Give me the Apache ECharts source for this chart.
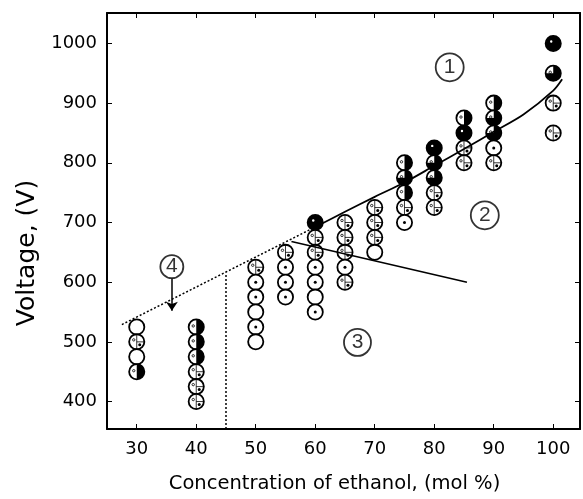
<!DOCTYPE html>
<html>
<head>
<meta charset="utf-8">
<script src="https://cdn.jsdelivr.net/npm/echarts@6/dist/echarts.min.js"></script>
<style>
  html, body { margin: 0; padding: 0; background: #fff; }
  #main { width: 583px; height: 499px; }
</style>
</head>
<body>
<div id="main"></div>
<script>
// tick labels
const xTicks = [30, 40, 50, 60, 70, 80, 90, 100];
const yTicks = [400, 500, 600, 700, 800, 900, 1000];

// observed points: concentration, voltage, pattern
// pattern: 0 open, 1 dot, 2 divided, 3 half black, 4 three-quarter black, 5 black
const pointX = [30,30,30,30, 40,40,40,40,40,40, 50,50,50,50,50,50, 55,55,55,55,
                60,60,60,60,60,60,60, 65,65,65,65,65, 70,70,70,70, 75,75,75,75,75,
                80,80,80,80,80, 85,85,85,85, 90,90,90,90,90, 100,100,100,100];
const pointY = [525,500,475,450, 525,500,475,450,425,400, 625,600,575,550,525,500, 650,625,600,575,
                700,675,650,625,600,575,550, 700,675,650,625,600, 725,700,675,650, 800,775,750,725,700,
                825,800,775,750,725, 875,850,825,800, 900,875,850,825,800, 1000,950,900,850];
const pointType = [0,2,0,3, 3,3,3,2,2,2, 2,1,1,0,1,0, 2,1,1,1,
                   5,2,2,1,1,0,1, 2,2,2,1,2, 2,2,2,0, 3,4,3,2,1,
                   5,4,4,2,2, 3,5,2,2, 3,4,4,1,2, 5,4,2,2];

// boundary 1/2: dotted part then solid curve
const dotX = [27.5, 60.5];
const dotY = [529, 695];
const curveX = [60.5, 65, 70, 75, 80, 85, 90, 95, 100, 101.5];
const curveY = [695, 718, 743, 767, 795, 823, 852, 881, 921, 940];
// boundary 2/3
const bX = [56, 85.5];
const bY = [668, 600];
// vertical dotted at 45 mol %
const vX = [45, 45];
const vY = [354, 616];
// arrow under region 4
const arrowX = [35.9, 35.9];
const arrowY = [606, 552];
// region labels
const labelX = [82.6, 88.5, 67.1, 35.9];
const labelY = [960, 712, 499, 626];
const labelText = ['1', '2', '3', '4'];
const labelSize = [28, 28, 27, 23];

const zip = (a, b) => a.map((v, i) => [v, b[i]]);

function renderMarker(params, api) {
  const p = api.coord([api.value(0), api.value(1)]);
  const t = api.value(2);
  const r = 7.6;
  const kids = [{
    type: 'circle',
    shape: { cx: p[0], cy: p[1], r: r },
    style: { fill: t === 5 ? '#000' : '#fff', stroke: '#000', lineWidth: 1.8 }
  }];
  if (t === 3 || t === 4) {
    kids.push({
      type: 'sector',
      shape: { cx: p[0], cy: p[1], r0: 0, r: r, startAngle: -Math.PI / 2,
               endAngle: t === 3 ? Math.PI / 2 : Math.PI, clockwise: true },
      style: { fill: '#000' }
    });
    kids.push({ type: 'circle', shape: { cx: p[0] - 3, cy: p[1] - 1, r: 1.2 },
                style: { fill: 'none', stroke: '#000', lineWidth: 0.8 } });
  }
  if (t === 2) {
    kids.push({ type: 'line', shape: { x1: p[0], y1: p[1] - r, x2: p[0], y2: p[1] + r },
                style: { stroke: '#000', lineWidth: 0.8 } });
    kids.push({ type: 'line', shape: { x1: p[0], y1: p[1], x2: p[0] + r, y2: p[1] },
                style: { stroke: '#000', lineWidth: 0.8 } });
    kids.push({ type: 'circle', shape: { cx: p[0] - 3, cy: p[1] - 2, r: 1.2 },
                style: { fill: 'none', stroke: '#000', lineWidth: 0.8 } });
    kids.push({ type: 'circle', shape: { cx: p[0] + 3, cy: p[1] + 3, r: 1.5 },
                style: { fill: '#000' } });
  }
  if (t === 1) {
    kids.push({ type: 'circle', shape: { cx: p[0], cy: p[1], r: 1.5 },
                style: { fill: '#000' } });
  }
  if (t === 5) {
    kids.push({ type: 'circle', shape: { cx: p[0] - 2, cy: p[1] - 2, r: 1.2 },
                style: { fill: '#fff' } });
  }
  return { type: 'group', children: kids };
}

const font = 'DejaVu Sans, sans-serif';
const axisLine = { show: true, onZero: false, lineStyle: { color: '#000', width: 2 } };
const plain = v => String(v);

const chart = echarts.init(document.getElementById('main'));
chart.setOption({
  animation: false,
  backgroundColor: '#fff',
  grid: { left: 107, right: 3, top: 13, bottom: 64 },
  xAxis: [{
    type: 'value', min: 25, max: 104.5, position: 'bottom',
    axisLine: axisLine,
    axisTick: { inside: true, length: 5, customValues: xTicks, lineStyle: { color: '#000' } },
    axisLabel: { customValues: xTicks, formatter: plain, fontSize: 18, color: '#000', fontFamily: font, margin: 11 },
    splitLine: { show: false },
    name: 'Concentration of ethanol, (mol %)', nameLocation: 'middle', nameGap: 45,
    nameTextStyle: { fontSize: 19.5, color: '#000', fontFamily: font, padding: [0, 18, 0, 0] }
  }, {
    type: 'value', min: 25, max: 104.5, position: 'top',
    axisLine: axisLine,
    axisTick: { inside: true, length: 5, customValues: xTicks, lineStyle: { color: '#000' } },
    axisLabel: { show: false }, splitLine: { show: false }
  }],
  yAxis: [{
    type: 'value', min: 354, max: 1051, position: 'left',
    axisLine: axisLine,
    axisTick: { inside: true, length: 5, customValues: yTicks, lineStyle: { color: '#000' } },
    axisLabel: { customValues: yTicks, formatter: plain, fontSize: 18, color: '#000', fontFamily: font, margin: 10 },
    splitLine: { show: false },
    name: 'Voltage, (V)', nameLocation: 'middle', nameGap: 64, nameRotate: 90,
    nameTextStyle: { fontSize: 25, color: '#000', fontFamily: font, padding: [0, 64, 0, 0] }
  }, {
    type: 'value', min: 354, max: 1051, position: 'right',
    axisLine: axisLine,
    axisTick: { inside: true, length: 5, customValues: yTicks, lineStyle: { color: '#000' } },
    axisLabel: { show: false }, splitLine: { show: false }
  }],
  series: [
    {
      type: 'custom', renderItem: renderMarker, z: 2,
      data: pointX.map((x, i) => [x, pointY[i], pointType[i]])
    },
    {
      type: 'line', data: zip(dotX, dotY), symbol: 'none', z: 3,
      lineStyle: { color: '#000', width: 1.5, type: [2, 2] }
    },
    {
      type: 'line', data: zip(curveX, curveY), symbol: 'none', smooth: 0.3, z: 3,
      lineStyle: { color: '#000', width: 1.8 }
    },
    {
      type: 'line', data: zip(bX, bY), symbol: 'none', z: 3,
      lineStyle: { color: '#000', width: 1.6 }
    },
    {
      type: 'line', data: zip(vX, vY), symbol: 'none', z: 3,
      lineStyle: { color: '#000', width: 1.5, type: [2, 2] }
    },
    {
      type: 'lines', coordinateSystem: 'cartesian2d', z: 3,
      symbol: ['none', 'arrow'], symbolSize: 9,
      lineStyle: { color: '#000', width: 1.5, opacity: 1 },
      data: [{ coords: zip(arrowX, arrowY) }]
    },
    {
      type: 'scatter', symbol: 'circle', z: 4,
      symbolSize: (v, p) => labelSize[p.dataIndex],
      itemStyle: { color: '#fff', borderColor: '#000', borderWidth: 1.8 },
      label: { show: true, position: 'inside', formatter: p => p.value[2],
               fontSize: 21, color: '#000', fontFamily: 'Liberation Sans, Arial, sans-serif' },
      data: labelX.map((x, i) => [x, labelY[i], labelText[i]])
    }
  ]
});
</script>
</body>
</html>
